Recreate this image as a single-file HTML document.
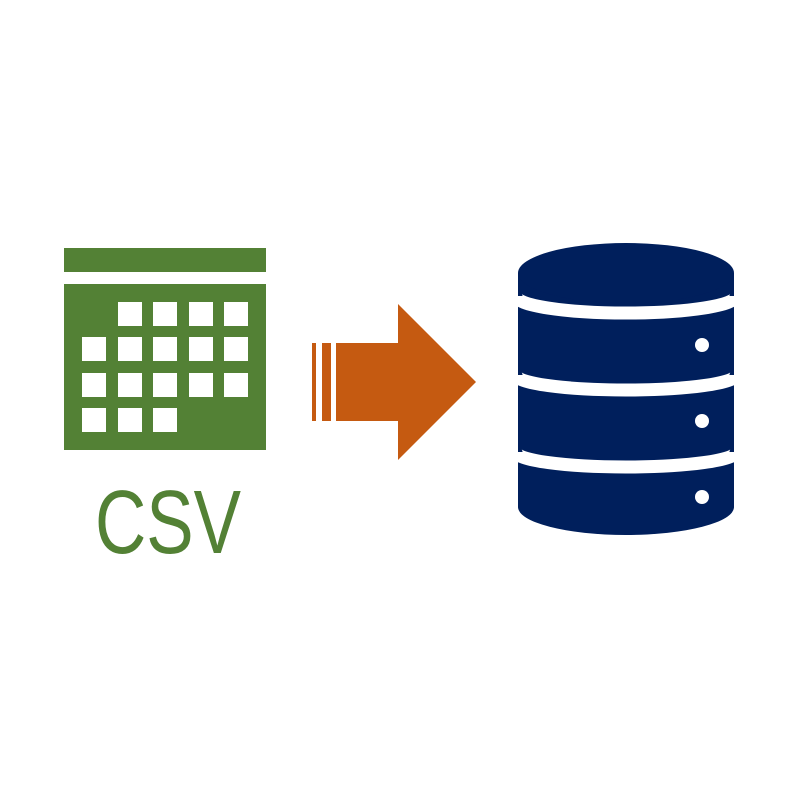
<!DOCTYPE html>
<html><head><style>html,body{margin:0;padding:0;background:#fff}</style></head>
<body>
<svg width="800" height="800" viewBox="0 0 800 800" xmlns="http://www.w3.org/2000/svg">
<g fill="#538135">
<rect x="64" y="248" width="202" height="24"/>
<rect x="64" y="284" width="202" height="166"/>
</g>
<g fill="#fff">
<rect x="118" y="302" width="24" height="24"/><rect x="153" y="302" width="24" height="24"/><rect x="189" y="302" width="24" height="24"/><rect x="224" y="302" width="24" height="24"/>
<rect x="82" y="337" width="24" height="24"/><rect x="118" y="337" width="24" height="24"/><rect x="153" y="337" width="24" height="24"/><rect x="189" y="337" width="24" height="24"/><rect x="224" y="337" width="24" height="24"/>
<rect x="82" y="373" width="24" height="24"/><rect x="118" y="373" width="24" height="24"/><rect x="153" y="373" width="24" height="24"/><rect x="189" y="373" width="24" height="24"/><rect x="224" y="373" width="24" height="24"/>
<rect x="82" y="408" width="24" height="24"/><rect x="118" y="408" width="24" height="24"/><rect x="153" y="408" width="24" height="24"/>
</g>
<text x="95" y="553" font-family="Liberation Sans, sans-serif" font-size="90" fill="#538135" textLength="146" lengthAdjust="spacingAndGlyphs">CSV</text>
<g fill="#c55a11">
<rect x="312" y="343" width="4" height="78"/>
<rect x="322" y="343" width="9" height="78"/>
<polygon points="336,343 398,343 398,304 476,382 398,460 398,421 336,421"/>
</g>
<path d="M518,273 L518,507 A108 28 0 0 0 734,507 L734,273 Z" fill="#001f5c"/>
<ellipse cx="626" cy="273" rx="108" ry="30" fill="#001f5c"/>
<g fill="none" stroke="#fff" stroke-width="13">
<path d="M516,296 A110 17 0 0 0 736,296"/>
<path d="M516,375 A110 15 0 0 0 736,375"/>
<path d="M516,452 A110 15 0 0 0 736,452"/>
</g>
<g fill="#fff">
<circle cx="702" cy="345" r="7"/><circle cx="702" cy="421" r="7"/><circle cx="702" cy="497" r="7"/>
</g>
</svg>
</body></html>
